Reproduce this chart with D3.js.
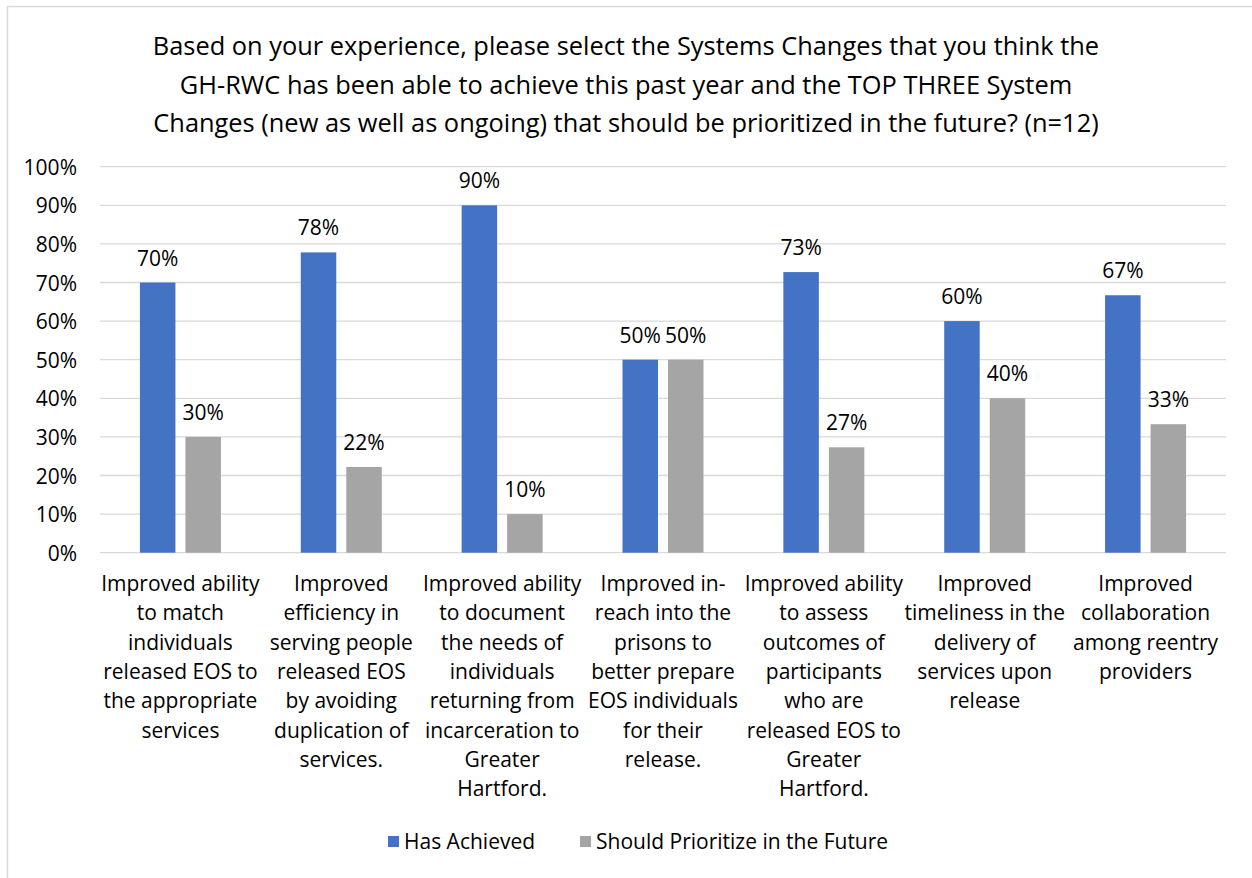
<!DOCTYPE html>
<html>
<head>
<meta charset="utf-8">
<script src="https://cdn.jsdelivr.net/npm/d3@7"></script>
<style>
  html, body { margin: 0; padding: 0; background: #fff; }
  svg { display: block; }
  text { font-family: "Open Sans", Lato, sans-serif; fill: #000; }
</style>
</head>
<body>
<svg id="chart" width="1252" height="878"></svg>
<script>
// Survey categories (line breaks as shown under the axis)
const categories = [
  "Improved ability\nto match\nindividuals\nreleased EOS to\nthe appropriate\nservices",
  "Improved\nefficiency in\nserving people\nreleased EOS\nby avoiding\nduplication of\nservices.",
  "Improved ability\nto document\nthe needs of\nindividuals\nreturning from\nincarceration to\nGreater\nHartford.",
  "Improved in-\nreach into the\nprisons to\nbetter prepare\nEOS individuals\nfor their\nrelease.",
  "Improved ability\nto assess\noutcomes of\nparticipants\nwho are\nreleased EOS to\nGreater\nHartford.",
  "Improved\ntimeliness in the\ndelivery of\nservices upon\nrelease",
  "Improved\ncollaboration\namong reentry\nproviders"
];

const seriesNames = ["Has Achieved", "Should Prioritize in the Future"];
const hasAchieved = [70, 77.8, 90, 50, 72.7, 60, 66.7];
const shouldPrioritize = [30, 22.2, 10, 50, 27.3, 40, 33.3];
const yTicks = [0, 10, 20, 30, 40, 50, 60, 70, 80, 90, 100];
const titleLines = [
  "Based on your experience, please select the Systems Changes that you think the",
  "GH-RWC has been able to achieve this past year and the TOP THREE System",
  "Changes (new as well as ongoing) that should be prioritized in the future? (n=12)"
];
const colors = ["#4472C4", "#A5A5A5"];

const labelSize = "21px";
const svg = d3.select("#chart");

// outer chart frame
svg.append("rect")
  .attr("x", 7.5).attr("y", 6.5)
  .attr("width", 1400).attr("height", 1000)
  .attr("fill", "none").attr("stroke", "#d9d9d9").attr("stroke-width", 1.5);

// title
svg.append("g").selectAll("text").data(titleLines).join("text")
  .attr("x", 626).attr("y", (d, i) => 55 + i * 38.5)
  .attr("text-anchor", "middle")
  .style("font-size", "25.4px")
  .text(d => d);

const plot = { left: 100, right: 1226, top: 166.7, bottom: 552.7 };

const y = d3.scaleLinear().domain([0, 100]).range([plot.bottom, plot.top]);
const x0 = d3.scaleBand().domain(d3.range(categories.length)).range([plot.left, plot.right]);
const x1 = d3.scaleBand().domain(seriesNames).range([0, 81]).paddingInner(0.22);

// gridlines
svg.append("g").selectAll("line").data(yTicks).join("line")
  .attr("x1", plot.left).attr("x2", plot.right)
  .attr("y1", d => y(d)).attr("y2", d => y(d))
  .attr("stroke", "#d9d9d9").attr("stroke-width", 1.3);

// y axis labels
const yAxis = d3.axisLeft(y).tickValues(yTicks).tickFormat(d => d + "%").tickSize(0).tickPadding(23);
const yg = svg.append("g").attr("transform", `translate(${plot.left},0)`).call(yAxis);
yg.select(".domain").remove();
yg.selectAll("text").style("font-size", labelSize).style("font-family", null)
  .attr("fill", "#000").attr("dy", "0.36em");

// bars
const rows = categories.map((c, i) => [
  { s: seriesNames[0], v: hasAchieved[i], i },
  { s: seriesNames[1], v: shouldPrioritize[i], i }
]);

const groups = svg.append("g").selectAll("g").data(rows).join("g")
  .attr("transform", (d, i) => `translate(${x0(i) + x0.bandwidth() / 2 - 40.5},0)`);

groups.selectAll("rect").data(d => d).join("rect")
  .attr("x", d => x1(d.s))
  .attr("width", x1.bandwidth())
  .attr("y", d => y(d.v))
  .attr("height", d => y(0) - y(d.v))
  .attr("fill", (d, j) => colors[j]);

groups.selectAll("text.val").data(d => d).join("text")
  .attr("class", "val")
  .attr("x", d => x1(d.s) + x1.bandwidth() / 2)
  .attr("y", d => y(d.v) - 17)
  .attr("text-anchor", "middle")
  .style("font-size", labelSize)
  .text(d => Math.round(d.v) + "%");

// category labels
const catG = svg.append("g").selectAll("text").data(categories).join("text")
  .attr("text-anchor", "middle")
  .style("font-size", labelSize);
catG.each(function (d, i) {
  const t = d3.select(this);
  d.split("\n").forEach((line, k) => {
    t.append("tspan")
      .attr("x", x0(i) + x0.bandwidth() / 2)
      .attr("y", 591 + k * 29.3)
      .text(line);
  });
});

// legend
const legendX = [388, 580];
const lg = svg.append("g").selectAll("g").data(seriesNames).join("g")
  .attr("transform", (d, i) => `translate(${legendX[i]},836)`);
lg.append("rect").attr("width", 11).attr("height", 11).attr("fill", (d, i) => colors[i]);
lg.append("text").attr("x", 16).attr("y", 13).style("font-size", labelSize).text(d => d);
</script>
</body>
</html>
